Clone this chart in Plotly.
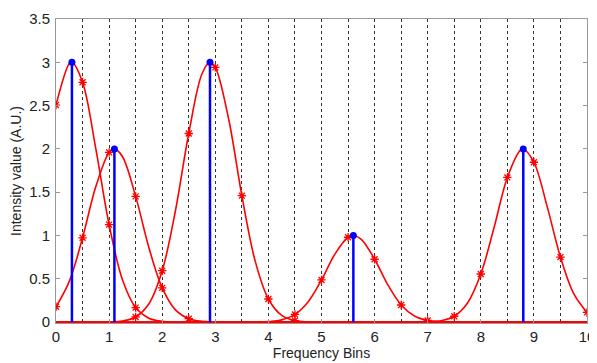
import plotly.graph_objects as go

# Peak (stem) positions and heights
PEAK_X = [0.3, 1.1, 2.9, 5.6, 8.8]
PEAK_Y = [3.0, 2.0, 3.0, 1.0, 2.0]

# Curve samples (x, intensity)
CURVE_A_X = [0, 0.25, 0.3, 0.5, 0.75, 1.0, 1.25, 1.5, 1.75, 2.0, 2.25, 2.5, 10]
CURVE_A_Y = [2.506, 2.985, 3.0, 2.769, 2.001, 1.126, 0.493, 0.168, 0.045, 0.009, 0.0015, 0, 0]

CURVE_B_X = [0, 0.25, 0.5, 0.75, 1.0, 1.1, 1.25, 1.5, 1.75, 2.0, 2.25, 2.5, 2.75, 3.0, 3.25, 10]
CURVE_B_Y = [0.178, 0.471, 0.974, 1.565, 1.960, 2.0, 1.912, 1.452, 0.859, 0.396, 0.142, 0.040, 0.009, 0.0015, 0, 0]

CURVE_C_X = [0, 0.75, 1.0, 1.25, 1.5, 1.75, 2.0, 2.25, 2.5, 2.75, 2.9, 3.0, 3.25, 3.5, 3.75, 4.0, 4.25, 4.5, 4.75, 5.0, 10]
CURVE_C_Y = [0, 0, 0.002, 0.013, 0.060, 0.213, 0.594, 1.289, 2.178, 2.868, 3.0, 2.941, 2.348, 1.460, 0.707, 0.267, 0.078, 0.018, 0.003, 0, 0]

CURVE_D_X = [0, 3.5, 3.75, 4.0, 4.25, 4.5, 4.75, 5.0, 5.25, 5.5, 5.6, 5.75, 6.0, 6.25, 6.5, 6.75, 7.0, 7.25, 7.5, 7.75, 10]
CURVE_D_Y = [0, 0, 0.001, 0.006, 0.026, 0.089, 0.236, 0.487, 0.783, 0.980, 1.0, 0.956, 0.726, 0.430, 0.198, 0.071, 0.020, 0.004, 0.001, 0, 0]

CURVE_E_X = [0, 6.75, 7.0, 7.25, 7.5, 7.75, 8.0, 8.25, 8.5, 8.75, 8.8, 9.0, 9.25, 9.5, 9.75, 10.0]
CURVE_E_Y = [0, 0, 0.003, 0.016, 0.068, 0.221, 0.556, 1.092, 1.671, 1.990, 2.0, 1.846, 1.334, 0.751, 0.329, 0.112]

CURVES = [(CURVE_A_X, CURVE_A_Y), (CURVE_B_X, CURVE_B_Y), (CURVE_C_X, CURVE_C_Y),
          (CURVE_D_X, CURVE_D_Y), (CURVE_E_X, CURVE_E_Y)]

X_TICKS = list(range(0, 11))
Y_TICKS = [0, 0.5, 1, 1.5, 2, 2.5, 3, 3.5]
Y_TICK_TEXT = ["0", "0.5", "1", "1.5", "2", "2.5", "3", "3.5"]

RED = "#ff0000"
BLUE = "#0000ff"

fig = go.Figure()

# smooth red curves
for cx, cy in CURVES:
    fig.add_trace(go.Scatter(x=cx, y=cy, mode="lines", line=dict(color=RED, width=1.6, shape="spline", smoothing=1.0),
                             hoverinfo="skip", showlegend=False))

# bin samples (markers) at every half bin
mx, my = [], []
for cx, cy in CURVES:
    for x, y in zip(cx, cy):
        if abs(x * 2 - round(x * 2)) < 1e-9 and y >= 0.01:
            mx.append(x)
            my.append(y)
fig.add_trace(go.Scatter(x=mx, y=my, mode="markers",
                         marker=dict(symbol="asterisk-open", size=7, color=RED, line=dict(color=RED, width=1.3)),
                         showlegend=False))

# blue stems
for px, py in zip(PEAK_X, PEAK_Y):
    fig.add_trace(go.Scatter(x=[px, px], y=[0, py], mode="lines", line=dict(color=BLUE, width=2.5),
                             showlegend=False))
fig.add_trace(go.Scatter(x=PEAK_X, y=PEAK_Y, mode="markers", marker=dict(color=BLUE, size=7),
                         showlegend=False))

# the page body adds an 8px offset, so the figure is 8px smaller and margins compensate
fig.update_layout(
    width=589, height=355,
    margin=dict(l=48, r=6, t=2, b=40),
    paper_bgcolor="white", plot_bgcolor="white",
    font=dict(family="Liberation Sans, Arial, sans-serif", size=15, color="#222"),
    xaxis=dict(range=[0, 10], tickvals=X_TICKS, showgrid=True, gridcolor="#333", griddash="dot", gridwidth=1,
               minor=dict(dtick=0.5, tick0=0, showgrid=True, gridcolor="#333", griddash="dot", gridwidth=1),
               showline=True, linecolor="#999", linewidth=1, mirror=True,
               ticks="inside", ticklen=4, tickcolor="#999", zeroline=False,
               ticklabeloverflow="allow", ticklabelstandoff=0,
               title=dict(text="Frequency Bins", standoff=0, font=dict(size=14))),
    yaxis=dict(range=[-0.01, 3.5], tickvals=Y_TICKS, ticktext=Y_TICK_TEXT, showgrid=False,
               showline=True, linecolor="#999", linewidth=1, mirror="ticks",
               ticks="inside", ticklen=4, tickcolor="#999", zeroline=False,
               ticklabeloverflow="allow", ticklabelstandoff=2,
               title=dict(text="Intensity value (A.U.)", standoff=4, font=dict(size=14))),
)

fig.write_html("out.html")
